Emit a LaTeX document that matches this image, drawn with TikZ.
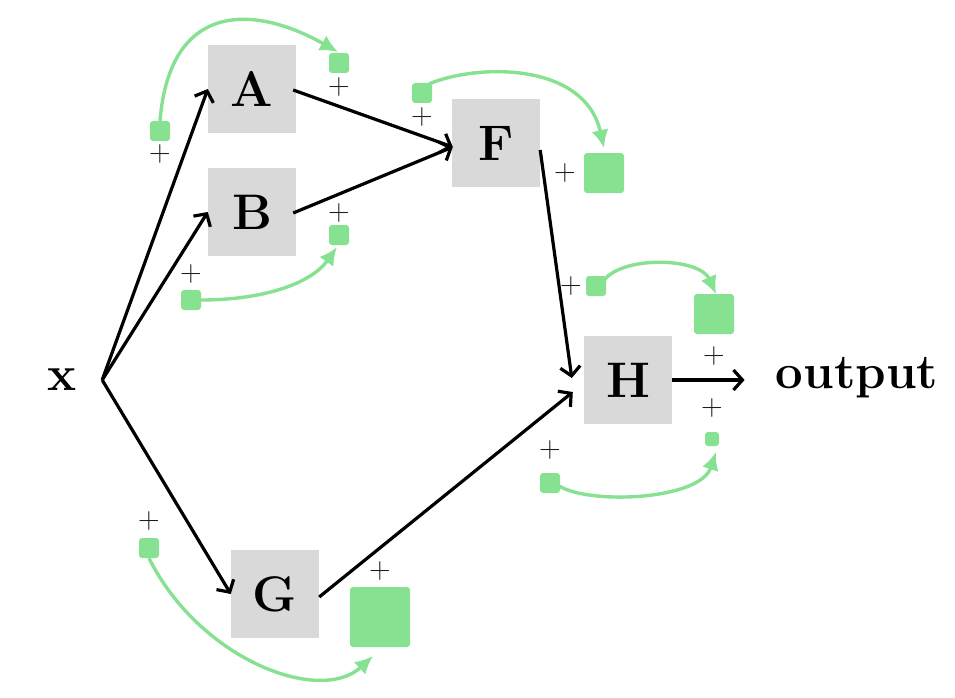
\documentclass[tikz,border=0pt]{standalone}
\usetikzlibrary{arrows.meta,calc}
\definecolor{gbox}{RGB}{217,217,217}
\definecolor{grn}{RGB}{134,225,145}
\definecolor{pl}{RGB}{30,30,30}
\begin{document}
\begin{tikzpicture}[x=1pt,y=-1pt,
 layer/.style={fill=gbox,minimum size=88pt,inner sep=0pt,font=\fontsize{50}{60}\selectfont\bfseries},
 lbl/.style={inner sep=0pt,font=\fontsize{49}{58}\selectfont\bfseries},
 sq/.style={fill=grn,rounded corners=3pt,inner sep=0pt,minimum size=#1},
 pls/.style={text=pl,inner sep=0pt,font=\fontsize{30}{34}\selectfont},
 conn/.style={line width=3.2pt,-{Straight Barb[length=9pt,width=20pt]}},
 garr/.style={grn,line width=3.4pt,-{Latex[length=18pt,width=17pt]}}]
\useasboundingbox (0,0) rectangle (955,698);
% main nodes
\node[lbl,minimum width=80pt] (x) at (62,380) {x};
\node[layer] (A) at (252,89) {A};
\node[layer] (B) at (252,212) {B};
\node[layer] (F) at (496,143) {F};
\node[layer] (G) at (275,594) {G};
\node[layer] (H) at (628,380) {H};
\node[lbl,inner xsep=31pt] (out) at (857,378) {output};
% connectors
\draw[conn] (x.east) -- (A.west);
\draw[conn] (x.east) -- (B.west);
\draw[conn] (x.east) -- (G.west);
\draw[conn] ($(A.east)+(-3,1)$) -- ($(F.west)+(1,4)$);
\draw[conn] ($(B.east)+(-3,1)$) -- ($(F.west)+(1,4)$);
\draw[conn] ($(F.east)+(0,7)$) -- ($(H.west)+(-12,-2)$);
\draw[conn] ($(G.east)+(0,3)$) -- ($(H.west)+(-11,12)$);
\draw[conn] (H.east) -- (H.east -| out.west);
% green squares
\node[sq=20pt] (s1) at (160,131) {};
\node[sq=20pt] (t1) at (339,63) {};
\node[sq=20pt] (s2) at (422,93) {};
\node[sq=40pt] (t2) at (604,173) {};
\node[sq=20pt] (s3) at (191,300) {};
\node[sq=20pt] (t3) at (339,235) {};
\node[sq=20pt] (s4) at (596,286) {};
\node[sq=40pt] (t4) at (714,314) {};
\node[sq=20pt] (s5) at (550,483) {};
\node[sq=14pt] (t5) at (712,439) {};
\node[sq=20pt] (s6) at (149,548) {};
\node[sq=60pt] (t6) at (380,617) {};
% plus signs
\node[pls] (p1) at (160,154) {+};
\node[pls] (p2) at (339,87) {+};
\node[pls] (p3) at (422,117) {+};
\node[pls] (p4) at (565,173) {+};
\node[pls] (p5) at (191,274) {+};
\node[pls] (p6) at (339,213) {+};
\node[pls] (p7) at (571,286) {+};
\node[pls] (p8) at (714,356) {+};
\node[pls] (p9) at (712,408) {+};
\node[pls] (p10) at (550,450) {+};
\node[pls] (p11) at (149,521) {+};
\node[pls] (p12) at (380,571) {+};
% green curves
\coordinate (e1) at (338,52);
\coordinate (e2) at (604,148);
\coordinate (e3) at (337,247);
\coordinate (e4) at (716,294);
\coordinate (e5) at (716,452);
\coordinate (e6) at (373,656);
\draw[garr] (s1.north) .. controls (170,0) and (255,5) .. (e1);
\draw[garr] ($(s2.north east)+(-3,1)$) .. controls (480,63) and (585,63) .. (e2);
\draw[garr] (s3.east) .. controls (260,300) and (310,285) .. (e3);
\draw[garr] ($(s4.north east)+(-2,4)$) .. controls (625,255) and (700,258) .. (e4);
\draw[garr] ($(s5.east)+(-1,3)$) .. controls (590,505) and (700,500) .. (e5);
\draw[garr] (s6.south) .. controls (200,660) and (320,705) .. (e6);
\end{tikzpicture}
\end{document}
